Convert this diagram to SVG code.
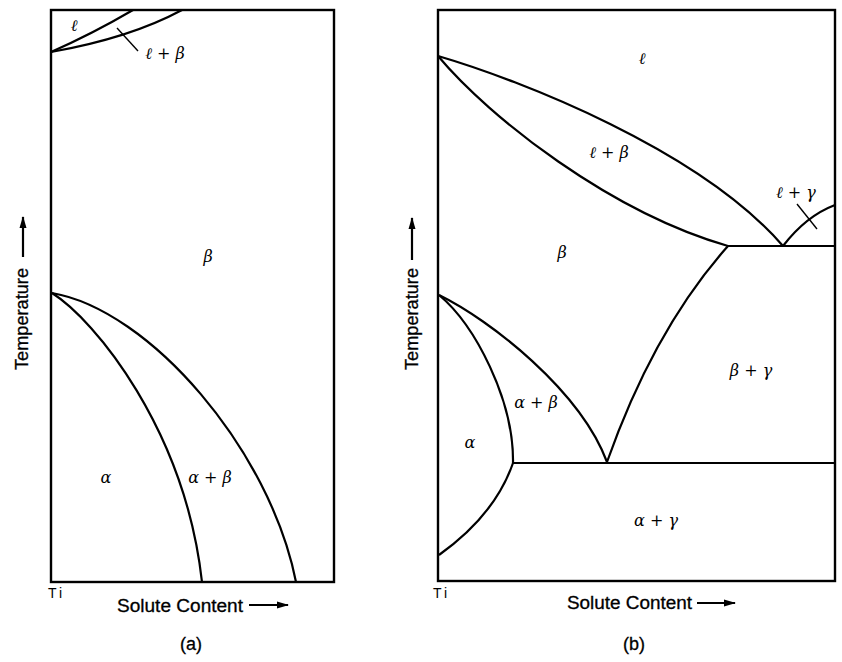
<svg xmlns="http://www.w3.org/2000/svg" width="842" height="662" viewBox="0 0 842 662">
<style>
.frame{fill:none;stroke:#000;stroke-width:2.4}
.ln{fill:none;stroke:#000;stroke-width:2.2}
.tk{fill:none;stroke:#000;stroke-width:1.4}
.ph{font-family:"DejaVu Serif","Liberation Serif",serif;font-style:italic;font-size:16px;fill:#000;text-anchor:middle}
.ax{font-family:"Liberation Sans",Arial,sans-serif;font-size:18px;fill:#000;stroke:#000;stroke-width:0.3}
.cap{font-family:"Liberation Sans",Arial,sans-serif;font-size:18px;fill:#000;text-anchor:middle;stroke:#000;stroke-width:0.3}
.ti{font-family:"Liberation Sans",Arial,sans-serif;font-size:14px;fill:#000;letter-spacing:3px}
</style>
<defs>
<marker id="ah" markerWidth="12" markerHeight="8" refX="11" refY="4" orient="auto" markerUnits="userSpaceOnUse">
<path d="M0,0.5 L12,4 L0,7.5 Z" fill="#000"/>
</marker>
</defs>
<rect width="842" height="662" fill="#fff"/>

<g id="panel-a">
<rect class="frame" x="51" y="10" width="283" height="572"/>
<g id="a-curves">
<path class="ln" d="M51,52 Q92,34 133,10"/>
<path class="ln" d="M51,52 Q130,38 182,10"/>
<path class="ln" d="M52,293 C95,320 185,430 202,582"/>
<path class="ln" d="M52,293 C150,310 270,450 296,582"/>
<path class="tk" d="M117,28 L138,51"/>
</g>
<g id="a-labels">
<text class="ph" x="74" y="31">ℓ</text>
<text class="ph" x="165" y="59">ℓ + β</text>
<text class="ph" x="208" y="262">β</text>
<text class="ph" x="106" y="483">α</text>
<text class="ph" x="210" y="483">α + β</text>
</g>
<g id="a-axes">
<text class="ti" x="48" y="598">Ti</text>
<text class="ax" x="117" y="612" textLength="126" lengthAdjust="spacingAndGlyphs">Solute Content</text>
<line class="ln" x1="249" y1="605" x2="288" y2="605" marker-end="url(#ah)"/>
<text class="ax" transform="translate(28,319) rotate(-90)" text-anchor="middle" textLength="102" lengthAdjust="spacingAndGlyphs">Temperature</text>
<line class="ln" x1="23" y1="257" x2="23" y2="217" marker-end="url(#ah)"/>
<text class="cap" x="191" y="650">(a)</text>
</g>
</g>

<g id="panel-b">
<rect class="frame" x="438" y="10" width="397" height="571"/>
<g id="b-curves">
<path class="ln" d="M438,56 C520,80 700,150 783,246"/>
<path class="ln" d="M438,56 C490,118 610,212 728,246"/>
<path class="ln" d="M728,246 L835,246"/>
<path class="ln" d="M783,246 Q806,216 835,205"/>
<path class="ln" d="M607,462 Q654,329 728,246"/>
<path class="ln" d="M439,295 C490,320 580,390 607,462"/>
<path class="ln" d="M439,295 C475,325 514,400 513,463"/>
<path class="ln" d="M513,463 Q495,515 439,555"/>
<path class="ln" d="M513,463 L835,463"/>
<path class="tk" d="M797,204 L817,229"/>
</g>
<g id="b-labels">
<text class="ph" x="642" y="64">ℓ</text>
<text class="ph" x="609" y="158">ℓ + β</text>
<text class="ph" x="796" y="198">ℓ + γ</text>
<text class="ph" x="562" y="258">β</text>
<text class="ph" x="751" y="376">β + γ</text>
<text class="ph" x="536" y="408">α + β</text>
<text class="ph" x="470" y="448">α</text>
<text class="ph" x="656" y="526">α + γ</text>
</g>
<g id="b-axes">
<text class="ti" x="433" y="598">Ti</text>
<text class="ax" x="567" y="609" textLength="125" lengthAdjust="spacingAndGlyphs">Solute Content</text>
<line class="ln" x1="697" y1="603" x2="735" y2="603" marker-end="url(#ah)"/>
<text class="ax" transform="translate(418,319) rotate(-90)" text-anchor="middle" textLength="102" lengthAdjust="spacingAndGlyphs">Temperature</text>
<line class="ln" x1="412" y1="260" x2="412" y2="218" marker-end="url(#ah)"/>
<text class="cap" x="634" y="650">(b)</text>
</g>
</g>
</svg>
